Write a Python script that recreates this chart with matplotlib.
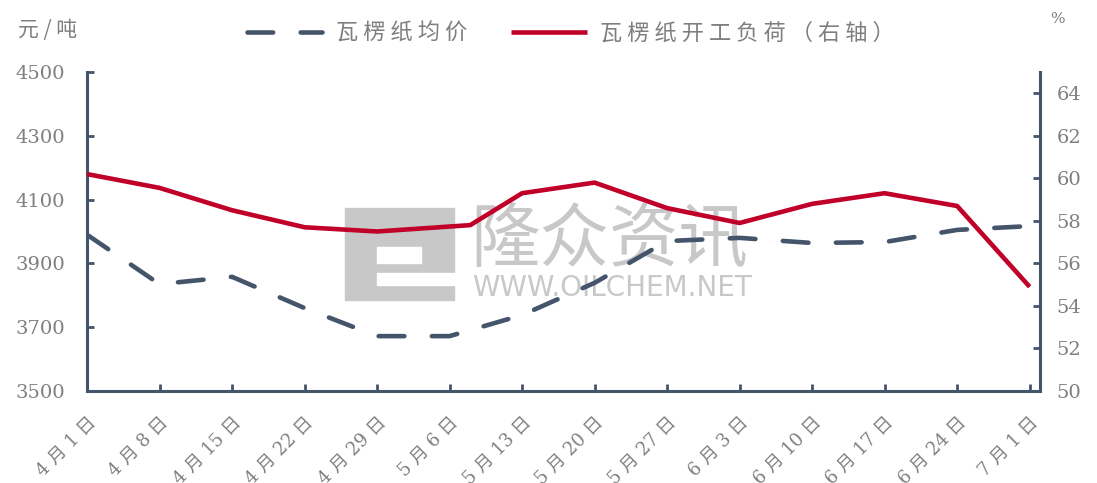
import matplotlib
matplotlib.use("Agg")
import matplotlib.pyplot as plt
import matplotlib.patches as mpatches
import pandas as pd

# weekly dates on the x axis
week_dates = ["4-1", "4-8", "4-15", "4-22", "4-29", "5-6", "5-13",
              "5-20", "5-27", "6-3", "6-10", "6-17", "6-24", "7-1"]
week_labels = ["4月1日", "4月8日", "4月15日", "4月22日", "4月29日", "5月6日", "5月13日",
               "5月20日", "5月27日", "6月3日", "6月10日", "6月17日", "6月24日", "7月1日"]

# 瓦楞纸均价 (元/吨)
price = [3990, 3835, 3858, 3760, 3672, 3672, 3738,
         3839, 3970, 3980, 3964, 3967, 4005, 4017]

# 瓦楞纸开工负荷 (%), the holiday week is reported on 5-8
load_dates = ["4-1", "4-8", "4-15", "4-22", "4-29", "5-8", "5-13",
              "5-20", "5-27", "6-3", "6-10", "6-17", "6-24", "7-1"]
load = [60.2, 59.55, 58.5, 57.7, 57.5, 57.8, 59.3,
        59.8, 58.6, 57.9, 58.8, 59.3, 58.7, 54.9]

left_ticks = [3500, 3700, 3900, 4100, 4300, 4500]
right_ticks = [50, 52, 54, 56, 58, 60, 62, 64]

name_price = "瓦楞纸均价"
name_load = "瓦楞纸开工负荷（右轴）"


def to_days(lst):
    d = pd.to_datetime(["2024-" + s for s in lst])
    return list((d - pd.Timestamp("2024-04-01")).days)


def spaced(s):
    # the original text is set with wide letter spacing
    return " ".join(s)


W, H = 1097, 483
NAVY = "#44546A"
RED = "#C00028"
GREY = "#7F7F7F"
NUM_FONT = ["DejaVu Serif", "Noto Sans CJK SC"]
CJK_FONT = ["Noto Sans CJK SC", "DejaVu Sans"]


def px(x, y):
    return x / W, 1 - y / H


fig = plt.figure(figsize=(W / 100, H / 100), dpi=100)
x0, y0 = px(87, 391)
x1, y1 = px(1040, 72)
ax = fig.add_axes([x0, y0, x1 - x0, y1 - y0])
ax2 = ax.twinx()

xd = to_days(week_dates)
ld = to_days(load_dates)

# watermark
wm = "#C8C8C8"
lx, ly = px(345, 300)
lw_, lh_ = (454 - 345) / W, (300 - 208) / H
ax.add_patch(mpatches.Rectangle((lx, ly), lw_, lh_, transform=fig.transFigure,
                                color=wm, zorder=0, clip_on=False))
hx, hy = px(377, 263)
ax.add_patch(mpatches.Rectangle((hx, hy), (421 - 377) / W, 16 / H, transform=fig.transFigure,
                                color="white", zorder=0.1, clip_on=False))
bx, by = px(377, 285)
ax.add_patch(mpatches.Rectangle((bx, by), (455 - 377) / W, 12 / H, transform=fig.transFigure,
                                color="white", zorder=0.1, clip_on=False))
tx, ty = px(470, 241)
ax.text(tx, ty, "隆众资讯", transform=fig.transFigure, fontsize=50, color=wm,
        family=CJK_FONT, va="center", ha="left", zorder=0)
tx, ty = px(472, 288)
ax.text(tx, ty, "WWW.OILCHEM.NET", transform=fig.transFigure, fontsize=20, color=wm,
        family=["DejaVu Sans"], va="center", ha="left", zorder=0)

l1, = ax.plot(xd, price, color=NAVY, lw=3.3, dashes=(5.6, 6.0),
              dash_capstyle="round", zorder=2, label=spaced(name_price))
l2, = ax2.plot(ld, load, color=RED, lw=3.3, solid_capstyle="butt",
               zorder=3, label=spaced(name_load))

ax.set_xlim(0, 92)
ax.set_ylim(3500, 4500)
ax2.set_ylim(50, 65)

ax.set_xticks(xd)
ax.set_xticklabels([s.replace("月", " 月 ").replace("日", " 日") for s in week_labels],
                   rotation=45, ha="right", rotation_mode="anchor",
                   family=NUM_FONT, fontsize=13, color=GREY)
ax.set_yticks(left_ticks)
ax.set_yticklabels([str(v) for v in left_ticks], family=NUM_FONT, fontsize=14, color=GREY)
ax2.set_yticks(right_ticks)
ax2.set_yticklabels([str(v) for v in right_ticks], family=NUM_FONT, fontsize=14, color=GREY)

for a in (ax, ax2):
    for s in a.spines.values():
        s.set_color(NAVY)
        s.set_linewidth(2.2)
    a.spines["top"].set_visible(False)
ax.spines["right"].set_visible(False)
ax2.spines["left"].set_visible(False)
ax2.spines["bottom"].set_visible(False)

ax.tick_params(axis="y", direction="in", length=5, width=2, color=NAVY, pad=16)
ax.tick_params(axis="x", direction="in", length=5, width=2, color=NAVY, pad=16)
ax2.tick_params(axis="y", direction="in", length=5, width=2, color=NAVY, pad=12)

ux, uy = px(18, 30)
fig.text(ux, uy, spaced("元/吨"), fontsize=15, color=GREY, family=CJK_FONT,
         ha="left", va="center")
px_, py_ = px(1050, 19)
fig.text(px_, py_, "%", fontsize=11, color=GREY, family=NUM_FONT, ha="left", va="center")

gx, gy = px(571, 33)
fig.legend(handles=[l1, l2], loc="center", bbox_to_anchor=(gx, gy), ncol=2,
           frameon=False, handlelength=3.4, handletextpad=0.6, columnspacing=2.0,
           prop={"family": CJK_FONT, "size": 16}, labelcolor=GREY)

fig.savefig("out.png", dpi=100)
